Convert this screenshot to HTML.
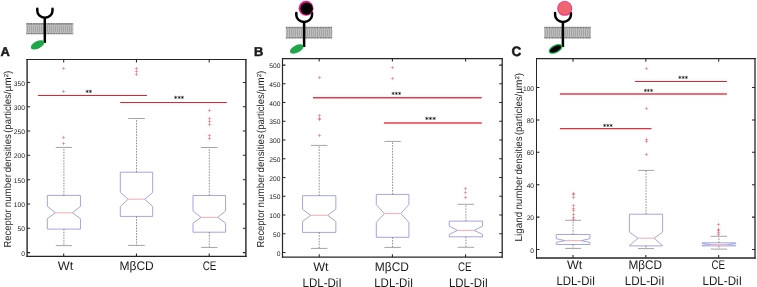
<!DOCTYPE html>
<html lang="en"><head><meta charset="utf-8"><title>Receptor and ligand number densities</title>
<style>html,body{margin:0;padding:0;background:#fff}body{width:757px;height:287px;overflow:hidden}svg{display:block;will-change:transform;opacity:0.999}text{text-rendering:geometricPrecision;font-family:'Liberation Sans', 'DejaVu Sans', sans-serif}</style>
</head><body>
<svg width="757" height="287" viewBox="0 0 757 287">
<defs><pattern id="tails" width="2" height="4" patternUnits="userSpaceOnUse"><rect width="2" height="4" fill="#a4a4a4"/><rect x="0.2" width="0.6" height="4" fill="#cfcfcf"/></pattern></defs>
<rect width="757" height="287" fill="#fff"/>
<rect x="26.3" y="23.2" width="46.9" height="10.9" fill="#c6c6c6"/>
<rect x="26.3" y="25.4" width="46.9" height="6.5" fill="url(#tails)"/>
<path d="M26.3 23.80H73.2M26.3 33.50H73.2" stroke="#767676" stroke-width="1.7" stroke-dasharray="1.1 0.45"/>
<path d="M37.3 8.7V10.75A7.60 7.0 0 0 0 52.5 10.75V8.7" fill="none" stroke="#000" stroke-width="2.5" stroke-linecap="round"/>
<path d="M44.8 17.25V42.9" stroke="#000" stroke-width="2.5" fill="none"/>
<ellipse cx="37.6" cy="44.9" rx="7.4" ry="3.7" transform="rotate(-27 37.6 44.9)" fill="#1fa54a"/>
<rect x="285.9" y="27.0" width="46.3" height="11.2" fill="#c6c6c6"/>
<rect x="285.9" y="29.2" width="46.3" height="6.8" fill="url(#tails)"/>
<path d="M285.9 27.60H332.2M285.9 37.60H332.2" stroke="#767676" stroke-width="1.7" stroke-dasharray="1.1 0.45"/>
<path d="M296.3 12.9V14.90A7.85 7.0 0 0 0 312.0 14.90V12.9" fill="none" stroke="#000" stroke-width="2.5" stroke-linecap="round"/>
<path d="M304.1 21.4V47.0" stroke="#000" stroke-width="2.5" fill="none"/>
<circle cx="306.05" cy="8.3" r="7.45" fill="#ee1a88"/>
<circle cx="306.6" cy="8.6" r="6.2" fill="#000"/>
<ellipse cx="296.7" cy="49.0" rx="7.4" ry="3.7" transform="rotate(-27 296.7 49.0)" fill="#1fa54a"/>
<rect x="544.3" y="27.0" width="46.6" height="11.2" fill="#c6c6c6"/>
<rect x="544.3" y="29.2" width="46.6" height="6.8" fill="url(#tails)"/>
<path d="M544.3 27.60H590.9M544.3 37.60H590.9" stroke="#767676" stroke-width="1.7" stroke-dasharray="1.1 0.45"/>
<path d="M555.1 12.9V14.90A7.90 7.0 0 0 0 570.9 14.90V12.9" fill="none" stroke="#000" stroke-width="2.5" stroke-linecap="round"/>
<path d="M562.9 21.4V47.0" stroke="#000" stroke-width="2.5" fill="none"/>
<circle cx="564.7" cy="8.4" r="7.45" fill="#ec2a8c"/>
<circle cx="564.75" cy="8.2" r="6.55" fill="#f0666f"/>
<ellipse cx="555.6" cy="48.9" rx="6.9" ry="3.4" transform="rotate(-26 555.6 48.9)" fill="#000" stroke="#22b54e" stroke-width="1.2"/>
<text x="0.5" y="55.8" font-size="12.9" font-weight="bold" fill="#1a1a1a" stroke="#1a1a1a" stroke-width="0.5">A</text>
<text x="253.9" y="55.6" font-size="12.9" font-weight="bold" fill="#1a1a1a" stroke="#1a1a1a" stroke-width="0.5">B</text>
<text x="511.6" y="55.6" font-size="13.5" font-weight="bold" fill="#1a1a1a" stroke="#1a1a1a" stroke-width="0.5">C</text>
<path d="M27.1 59.00V256.95" stroke="#262626" stroke-width="1.4" fill="none"/>
<path d="M245.9 59.00V256.95" stroke="#262626" stroke-width="1.4" fill="none"/>
<path d="M26.40 59.5H246.60" stroke="#262626" stroke-width="1.0" fill="none"/>
<path d="M26.40 256.4H246.60" stroke="#262626" stroke-width="1.1" fill="none"/>
<path d="M63.70 256.4v-3.0M63.70 59.5v3.0M136.45 256.4v-3.0M136.45 59.5v3.0M209.20 256.4v-3.0M209.20 59.5v3.0M27.1 252.60h3.0M245.9 252.60h-3.0M27.1 228.29h3.0M245.9 228.29h-3.0M27.1 203.97h3.0M245.9 203.97h-3.0M27.1 179.66h3.0M245.9 179.66h-3.0M27.1 155.34h3.0M245.9 155.34h-3.0M27.1 131.03h3.0M245.9 131.03h-3.0M27.1 106.71h3.0M245.9 106.71h-3.0M27.1 82.40h3.0M245.9 82.40h-3.0" stroke="#262626" stroke-width="1.05" fill="none"/>
<text x="24.9" y="255.71" font-size="6.7" text-anchor="end" fill="#1c1c1c">0</text>
<text x="24.9" y="231.40" font-size="6.7" text-anchor="end" fill="#1c1c1c">50</text>
<text x="24.9" y="207.08" font-size="6.7" text-anchor="end" fill="#1c1c1c">100</text>
<text x="24.9" y="182.77" font-size="6.7" text-anchor="end" fill="#1c1c1c">150</text>
<text x="24.9" y="158.45" font-size="6.7" text-anchor="end" fill="#1c1c1c">200</text>
<text x="24.9" y="134.14" font-size="6.7" text-anchor="end" fill="#1c1c1c">250</text>
<text x="24.9" y="109.83" font-size="6.7" text-anchor="end" fill="#1c1c1c">300</text>
<text x="24.9" y="85.51" font-size="6.7" text-anchor="end" fill="#1c1c1c">350</text>
<text transform="translate(11.1 247.5) rotate(-90)" font-size="10.2" textLength="38.1" lengthAdjust="spacingAndGlyphs" fill="#1c1c1c">Receptor</text>
<text transform="translate(11.1 207.3) rotate(-90)" font-size="10.2" textLength="33.3" lengthAdjust="spacingAndGlyphs" fill="#1c1c1c">number</text>
<text transform="translate(11.1 172.3) rotate(-90)" font-size="10.2" textLength="38.2" lengthAdjust="spacingAndGlyphs" fill="#1c1c1c">densities</text>
<text transform="translate(11.1 132.8) rotate(-90)" font-size="10.2" textLength="41.3" lengthAdjust="spacingAndGlyphs" fill="#1c1c1c">(particles/</text>
<text transform="translate(11.1 91.5) rotate(-90)" font-size="10.2" textLength="21.0" lengthAdjust="spacingAndGlyphs" fill="#1c1c1c">µm²)</text>
<text x="57.8" y="270.0" font-size="12.5" textLength="15.5" lengthAdjust="spacingAndGlyphs" fill="#1c1c1c">Wt</text>
<text x="119.5" y="270.0" font-size="12.5" textLength="34.3" lengthAdjust="spacingAndGlyphs" fill="#1c1c1c">MβCD</text>
<text x="202.7" y="270.0" font-size="12.5" textLength="13.8" lengthAdjust="spacingAndGlyphs" fill="#1c1c1c">CE</text>
<path d="M47.35 206.40V195.40H80.45V206.40L72.40 212.80L80.45 218.60V229.10H47.35V218.60L55.40 212.80Z" fill="none" stroke="#a3a6dc" stroke-width="1.0" stroke-linejoin="miter"/>
<path d="M55.40 212.80H72.40" stroke="#f7b0b8" stroke-width="1.1"/>
<path d="M63.90 195.40V147.40M63.90 229.10V245.60" stroke="#747474" stroke-width="0.8" stroke-dasharray="1.6 1.2" fill="none"/>
<path d="M55.80 147.40h16.20M55.80 245.60h16.20" stroke="#949494" stroke-width="0.85" fill="none"/>
<path d="M61.8 68.5h3.4M61.8 91.5h3.4M61.8 137.5h3.4M61.8 143.5h3.4" stroke="#ee4f5c" stroke-width="1" stroke-opacity="0.47" fill="none"/>
<path d="M63.5 66.8v3.4M63.5 89.8v3.4M63.5 135.8v3.4M63.5 141.8v3.4" stroke="#ee4f5c" stroke-width="1" stroke-opacity="0.47" fill="none"/>
<path d="M120.30 192.40V172.20H152.70V192.40L144.70 199.20L152.70 206.50V216.40H120.30V206.50L128.30 199.20Z" fill="none" stroke="#a3a6dc" stroke-width="1.0" stroke-linejoin="miter"/>
<path d="M128.30 199.20H144.70" stroke="#f7b0b8" stroke-width="1.1"/>
<path d="M136.50 172.20V118.50M136.50 216.40V245.40" stroke="#747474" stroke-width="0.8" stroke-dasharray="1.6 1.2" fill="none"/>
<path d="M128.20 118.50h16.60M128.20 245.40h16.60" stroke="#949494" stroke-width="0.85" fill="none"/>
<path d="M134.8 68.5h3.4M134.8 71.5h3.4M134.8 74.5h3.4" stroke="#ee4f5c" stroke-width="1" stroke-opacity="0.47" fill="none"/>
<path d="M136.5 66.8v3.4M136.5 69.8v3.4M136.5 72.8v3.4" stroke="#ee4f5c" stroke-width="1" stroke-opacity="0.47" fill="none"/>
<path d="M193.00 210.90V195.50H225.60V210.90L217.60 217.40L225.60 223.10V232.20H193.00V223.10L201.00 217.40Z" fill="none" stroke="#a3a6dc" stroke-width="1.0" stroke-linejoin="miter"/>
<path d="M201.00 217.40H217.60" stroke="#f7b0b8" stroke-width="1.1"/>
<path d="M209.30 195.50V147.50M209.30 232.20V247.40" stroke="#747474" stroke-width="0.8" stroke-dasharray="1.6 1.2" fill="none"/>
<path d="M201.10 147.50h16.40M201.10 247.40h16.40" stroke="#949494" stroke-width="0.85" fill="none"/>
<path d="M207.8 110.5h3.4M207.8 118.5h3.4M207.8 121.5h3.4M207.8 124.5h3.4M207.8 135.5h3.4M207.8 138.5h3.4" stroke="#ee4f5c" stroke-width="1" stroke-opacity="0.47" fill="none"/>
<path d="M209.5 108.8v3.4M209.5 116.8v3.4M209.5 119.8v3.4M209.5 122.8v3.4M209.5 133.8v3.4M209.5 136.8v3.4" stroke="#ee4f5c" stroke-width="1" stroke-opacity="0.47" fill="none"/>
<path d="M38 95.5H147" stroke="#e8202c" stroke-width="1.15"/>
<path d="M120.2 102.5H226.8" stroke="#e8202c" stroke-width="1.1"/>
<text x="85.4" y="95.00" font-size="7.0" font-weight="bold" style="font-family:'DejaVu Sans','Liberation Sans',sans-serif" textLength="6.7" lengthAdjust="spacingAndGlyphs" fill="#111">**</text>
<text x="174.1" y="101.30" font-size="7.0" font-weight="bold" style="font-family:'DejaVu Sans','Liberation Sans',sans-serif" textLength="9.9" lengthAdjust="spacingAndGlyphs" fill="#111">***</text>
<path d="M282.5 58.05V257.85" stroke="#262626" stroke-width="1.2" fill="none"/>
<path d="M502.2 58.05V257.85" stroke="#262626" stroke-width="1.3" fill="none"/>
<path d="M281.90 58.6H502.85" stroke="#262626" stroke-width="1.1" fill="none"/>
<path d="M281.90 257.2H502.85" stroke="#262626" stroke-width="1.3" fill="none"/>
<path d="M319.20 257.2v-3.0M319.20 58.6v3.0M392.40 257.2v-3.0M392.40 58.6v3.0M465.60 257.2v-3.0M465.60 58.6v3.0M282.5 252.50h3.0M502.2 252.50h-3.0M282.5 233.76h3.0M502.2 233.76h-3.0M282.5 215.02h3.0M502.2 215.02h-3.0M282.5 196.28h3.0M502.2 196.28h-3.0M282.5 177.54h3.0M502.2 177.54h-3.0M282.5 158.80h3.0M502.2 158.80h-3.0M282.5 140.06h3.0M502.2 140.06h-3.0M282.5 121.32h3.0M502.2 121.32h-3.0M282.5 102.58h3.0M502.2 102.58h-3.0M282.5 83.84h3.0M502.2 83.84h-3.0M282.5 65.10h3.0M502.2 65.10h-3.0" stroke="#262626" stroke-width="1.05" fill="none"/>
<text x="280.4" y="255.61" font-size="6.7" text-anchor="end" fill="#1c1c1c">0</text>
<text x="280.4" y="236.87" font-size="6.7" text-anchor="end" fill="#1c1c1c">50</text>
<text x="280.4" y="218.13" font-size="6.7" text-anchor="end" fill="#1c1c1c">100</text>
<text x="280.4" y="199.39" font-size="6.7" text-anchor="end" fill="#1c1c1c">150</text>
<text x="280.4" y="180.65" font-size="6.7" text-anchor="end" fill="#1c1c1c">200</text>
<text x="280.4" y="161.91" font-size="6.7" text-anchor="end" fill="#1c1c1c">250</text>
<text x="280.4" y="143.17" font-size="6.7" text-anchor="end" fill="#1c1c1c">300</text>
<text x="280.4" y="124.43" font-size="6.7" text-anchor="end" fill="#1c1c1c">350</text>
<text x="280.4" y="105.69" font-size="6.7" text-anchor="end" fill="#1c1c1c">400</text>
<text x="280.4" y="86.95" font-size="6.7" text-anchor="end" fill="#1c1c1c">450</text>
<text x="280.4" y="68.21" font-size="6.7" text-anchor="end" fill="#1c1c1c">500</text>
<text transform="translate(263.6 247.6) rotate(-90)" font-size="10.2" textLength="38.1" lengthAdjust="spacingAndGlyphs" fill="#1c1c1c">Receptor</text>
<text transform="translate(263.6 207.4) rotate(-90)" font-size="10.2" textLength="33.3" lengthAdjust="spacingAndGlyphs" fill="#1c1c1c">number</text>
<text transform="translate(263.6 172.4) rotate(-90)" font-size="10.2" textLength="38.2" lengthAdjust="spacingAndGlyphs" fill="#1c1c1c">densities</text>
<text transform="translate(263.6 132.9) rotate(-90)" font-size="10.2" textLength="41.3" lengthAdjust="spacingAndGlyphs" fill="#1c1c1c">(particles/</text>
<text transform="translate(263.6 91.6) rotate(-90)" font-size="10.2" textLength="21.0" lengthAdjust="spacingAndGlyphs" fill="#1c1c1c">µm²)</text>
<text x="313.2" y="270.6" font-size="12.5" textLength="15.3" lengthAdjust="spacingAndGlyphs" fill="#1c1c1c">Wt</text>
<text x="374.8" y="270.6" font-size="12.5" textLength="34.2" lengthAdjust="spacingAndGlyphs" fill="#1c1c1c">MβCD</text>
<text x="457.9" y="270.6" font-size="12.5" textLength="13.6" lengthAdjust="spacingAndGlyphs" fill="#1c1c1c">CE</text>
<text x="302.5" y="287.2" font-size="12.5" textLength="39.1" lengthAdjust="spacingAndGlyphs" fill="#1c1c1c">LDL-DiI</text>
<text x="374.2" y="287.2" font-size="12.5" textLength="39.0" lengthAdjust="spacingAndGlyphs" fill="#1c1c1c">LDL-DiI</text>
<text x="448.9" y="287.2" font-size="12.5" textLength="39.0" lengthAdjust="spacingAndGlyphs" fill="#1c1c1c">LDL-DiI</text>
<path d="M302.55 209.30V195.70H335.85V209.30L327.60 215.30L335.85 221.40V232.40H302.55V221.40L310.80 215.30Z" fill="none" stroke="#a3a6dc" stroke-width="1.0" stroke-linejoin="miter"/>
<path d="M310.80 215.30H327.60" stroke="#f7b0b8" stroke-width="1.1"/>
<path d="M319.20 195.70V145.40M319.20 232.40V248.40" stroke="#747474" stroke-width="0.8" stroke-dasharray="1.6 1.2" fill="none"/>
<path d="M311.00 145.40h16.40M311.00 248.40h16.40" stroke="#949494" stroke-width="0.85" fill="none"/>
<path d="M317.8 77.5h3.4M317.8 115.5h3.4M317.8 118.5h3.4M317.8 119.5h3.4M317.8 135.5h3.4" stroke="#ee4f5c" stroke-width="1" stroke-opacity="0.47" fill="none"/>
<path d="M319.5 75.8v3.4M319.5 113.8v3.4M319.5 116.8v3.4M319.5 117.8v3.4M319.5 133.8v3.4" stroke="#ee4f5c" stroke-width="1" stroke-opacity="0.47" fill="none"/>
<path d="M376.30 204.60V194.40H408.90V204.60L400.80 213.50L408.90 222.40V237.30H376.30V222.40L384.40 213.50Z" fill="none" stroke="#a3a6dc" stroke-width="1.0" stroke-linejoin="miter"/>
<path d="M384.40 213.50H400.80" stroke="#f7b0b8" stroke-width="1.1"/>
<path d="M392.60 194.40V141.40M392.60 237.30V247.40" stroke="#747474" stroke-width="0.8" stroke-dasharray="1.6 1.2" fill="none"/>
<path d="M384.40 141.40h16.40M384.40 247.40h16.40" stroke="#949494" stroke-width="0.85" fill="none"/>
<path d="M390.8 67.5h3.4M390.8 78.5h3.4" stroke="#ee4f5c" stroke-width="1" stroke-opacity="0.47" fill="none"/>
<path d="M392.5 65.8v3.4M392.5 76.8v3.4" stroke="#ee4f5c" stroke-width="1" stroke-opacity="0.47" fill="none"/>
<path d="M449.25 226.20V221.10H482.55V226.20L474.20 230.40L482.55 234.30V236.80H449.25V234.30L457.60 230.40Z" fill="none" stroke="#a3a6dc" stroke-width="1.0" stroke-linejoin="miter"/>
<path d="M457.60 230.40H474.20" stroke="#f7b0b8" stroke-width="1.1"/>
<path d="M465.90 221.10V204.30M465.90 236.80V247.30" stroke="#747474" stroke-width="0.8" stroke-dasharray="1.6 1.2" fill="none"/>
<path d="M457.60 204.30h16.60M457.60 247.30h16.60" stroke="#949494" stroke-width="0.85" fill="none"/>
<path d="M463.8 188.5h3.4M463.8 192.5h3.4M463.8 197.5h3.4" stroke="#ee4f5c" stroke-width="1" stroke-opacity="0.47" fill="none"/>
<path d="M465.5 186.8v3.4M465.5 190.8v3.4M465.5 195.8v3.4" stroke="#ee4f5c" stroke-width="1" stroke-opacity="0.47" fill="none"/>
<path d="M313.0 97.75H481.7" stroke="#ea3a48" stroke-width="1.35"/>
<path d="M383.9 123.0H481.7" stroke="#ea3a48" stroke-width="1.3"/>
<text x="391.5" y="97.30" font-size="7.0" font-weight="bold" style="font-family:'DejaVu Sans','Liberation Sans',sans-serif" textLength="9.7" lengthAdjust="spacingAndGlyphs" fill="#111">***</text>
<text x="424.9" y="122.40" font-size="7.0" font-weight="bold" style="font-family:'DejaVu Sans','Liberation Sans',sans-serif" textLength="11.0" lengthAdjust="spacingAndGlyphs" fill="#111">***</text>
<path d="M536.5 58.05V258.75" stroke="#262626" stroke-width="1.0" fill="none"/>
<path d="M755.0 58.05V258.75" stroke="#262626" stroke-width="1.3" fill="none"/>
<path d="M536.00 58.7H755.65" stroke="#262626" stroke-width="1.3" fill="none"/>
<path d="M536.00 258.0H755.65" stroke="#262626" stroke-width="1.5" fill="none"/>
<path d="M573.00 258.0v-3.0M573.00 58.7v3.0M645.85 258.0v-3.0M645.85 58.7v3.0M718.70 258.0v-3.0M718.70 58.7v3.0M536.5 249.50h3.0M755.0 249.50h-3.0M536.5 217.10h3.0M755.0 217.10h-3.0M536.5 184.70h3.0M755.0 184.70h-3.0M536.5 152.30h3.0M755.0 152.30h-3.0M536.5 119.90h3.0M755.0 119.90h-3.0M536.5 87.50h3.0M755.0 87.50h-3.0" stroke="#262626" stroke-width="1.05" fill="none"/>
<text x="534.1" y="252.61" font-size="6.7" text-anchor="end" fill="#1c1c1c">0</text>
<text x="534.1" y="220.21" font-size="6.7" text-anchor="end" fill="#1c1c1c">20</text>
<text x="534.1" y="187.81" font-size="6.7" text-anchor="end" fill="#1c1c1c">40</text>
<text x="534.1" y="155.41" font-size="6.7" text-anchor="end" fill="#1c1c1c">60</text>
<text x="534.1" y="123.01" font-size="6.7" text-anchor="end" fill="#1c1c1c">80</text>
<text x="534.1" y="90.61" font-size="6.7" text-anchor="end" fill="#1c1c1c">100</text>
<text transform="translate(521.7 241.4) rotate(-90)" font-size="10.2" textLength="29.7" lengthAdjust="spacingAndGlyphs" fill="#1c1c1c">Ligand</text>
<text transform="translate(521.7 209.6) rotate(-90)" font-size="10.2" textLength="33.3" lengthAdjust="spacingAndGlyphs" fill="#1c1c1c">number</text>
<text transform="translate(521.7 174.6) rotate(-90)" font-size="10.2" textLength="38.2" lengthAdjust="spacingAndGlyphs" fill="#1c1c1c">densities</text>
<text transform="translate(521.7 135.1) rotate(-90)" font-size="10.2" textLength="41.3" lengthAdjust="spacingAndGlyphs" fill="#1c1c1c">(particles/</text>
<text transform="translate(521.7 93.8) rotate(-90)" font-size="10.2" textLength="21.0" lengthAdjust="spacingAndGlyphs" fill="#1c1c1c">µm²)</text>
<text x="566.9" y="268.6" font-size="12.5" textLength="15.3" lengthAdjust="spacingAndGlyphs" fill="#1c1c1c">Wt</text>
<text x="628.5" y="268.6" font-size="12.5" textLength="33.6" lengthAdjust="spacingAndGlyphs" fill="#1c1c1c">MβCD</text>
<text x="711.5" y="268.6" font-size="12.5" textLength="13.6" lengthAdjust="spacingAndGlyphs" fill="#1c1c1c">CE</text>
<text x="556.4" y="285.4" font-size="12.5" textLength="38.7" lengthAdjust="spacingAndGlyphs" fill="#1c1c1c">LDL-DiI</text>
<text x="624.8" y="285.4" font-size="12.5" textLength="39.6" lengthAdjust="spacingAndGlyphs" fill="#1c1c1c">LDL-DiI</text>
<text x="702.5" y="285.4" font-size="12.5" textLength="39.4" lengthAdjust="spacingAndGlyphs" fill="#1c1c1c">LDL-DiI</text>
<path d="M556.25 238.70V234.50H589.95V238.70L581.10 240.60L589.95 242.40V244.50H556.25V242.40L565.10 240.60Z" fill="none" stroke="#a3a6dc" stroke-width="1.0" stroke-linejoin="miter"/>
<path d="M565.10 240.60H581.10" stroke="#f7b0b8" stroke-width="1.1"/>
<path d="M573.10 234.50V220.30M573.10 244.50V248.40" stroke="#747474" stroke-width="0.8" stroke-dasharray="1.6 1.2" fill="none"/>
<path d="M565.10 220.30h16.00M565.10 248.40h16.00" stroke="#949494" stroke-width="0.85" fill="none"/>
<path d="M571.8 193.5h3.4M571.8 194.5h3.4M571.8 197.5h3.4M571.8 205.5h3.4M571.8 208.5h3.4M571.8 210.5h3.4M571.8 214.5h3.4M571.8 217.5h3.4M571.8 219.5h3.4" stroke="#ee4f5c" stroke-width="1" stroke-opacity="0.47" fill="none"/>
<path d="M573.5 191.8v3.4M573.5 192.8v3.4M573.5 195.8v3.4M573.5 203.8v3.4M573.5 206.8v3.4M573.5 208.8v3.4M573.5 212.8v3.4M573.5 215.8v3.4M573.5 217.8v3.4" stroke="#ee4f5c" stroke-width="1" stroke-opacity="0.47" fill="none"/>
<path d="M629.40 232.10V214.20H662.60V232.10L654.10 238.20L662.60 245.70V245.90H629.40V245.70L637.90 238.20Z" fill="none" stroke="#a3a6dc" stroke-width="1.0" stroke-linejoin="miter"/>
<path d="M637.90 238.20H654.10" stroke="#f7b0b8" stroke-width="1.1"/>
<path d="M646.00 214.20V170.40M646.00 245.90V248.60" stroke="#747474" stroke-width="0.8" stroke-dasharray="1.6 1.2" fill="none"/>
<path d="M638.00 170.40h16.00M638.00 248.60h16.00" stroke="#949494" stroke-width="0.85" fill="none"/>
<path d="M644.8 68.5h3.4M644.8 108.5h3.4M644.8 139.5h3.4M644.8 141.5h3.4M644.8 154.5h3.4" stroke="#ee4f5c" stroke-width="1" stroke-opacity="0.47" fill="none"/>
<path d="M646.5 66.8v3.4M646.5 106.8v3.4M646.5 137.8v3.4M646.5 139.8v3.4M646.5 152.8v3.4" stroke="#ee4f5c" stroke-width="1" stroke-opacity="0.47" fill="none"/>
<path d="M702.05 243.40V242.80H735.75V243.40L727.10 244.50L735.75 245.40V245.90H702.05V245.40L710.70 244.50Z" fill="none" stroke="#a3a6dc" stroke-width="1.0" stroke-linejoin="miter"/>
<path d="M710.70 244.50H727.10" stroke="#f7b0b8" stroke-width="1.1"/>
<path d="M718.90 242.80V236.30M718.90 245.90V249.10" stroke="#747474" stroke-width="0.8" stroke-dasharray="1.6 1.2" fill="none"/>
<path d="M710.70 236.30h16.40M710.70 249.10h16.40" stroke="#949494" stroke-width="0.85" fill="none"/>
<path d="M716.8 224.5h3.4M716.8 229.5h3.4M716.8 230.5h3.4M716.8 232.5h3.4M716.8 234.5h3.4" stroke="#ee4f5c" stroke-width="1" stroke-opacity="0.47" fill="none"/>
<path d="M718.5 222.8v3.4M718.5 227.8v3.4M718.5 228.8v3.4M718.5 230.8v3.4M718.5 232.8v3.4" stroke="#ee4f5c" stroke-width="1" stroke-opacity="0.47" fill="none"/>
<path d="M634.9 81.5H726.9" stroke="#e8202c" stroke-width="1.1"/>
<path d="M559.9 94.0H726.9" stroke="#ea3a48" stroke-width="1.3"/>
<path d="M559.9 128.65H651.5" stroke="#e92c3a" stroke-width="1.3"/>
<text x="678.3" y="81.40" font-size="7.0" font-weight="bold" style="font-family:'DejaVu Sans','Liberation Sans',sans-serif" textLength="9.7" lengthAdjust="spacingAndGlyphs" fill="#111">***</text>
<text x="643.7" y="94.00" font-size="7.0" font-weight="bold" style="font-family:'DejaVu Sans','Liberation Sans',sans-serif" textLength="9.3" lengthAdjust="spacingAndGlyphs" fill="#111">***</text>
<text x="603.1" y="128.50" font-size="7.0" font-weight="bold" style="font-family:'DejaVu Sans','Liberation Sans',sans-serif" textLength="9.7" lengthAdjust="spacingAndGlyphs" fill="#111">***</text>
</svg>
</body></html>
